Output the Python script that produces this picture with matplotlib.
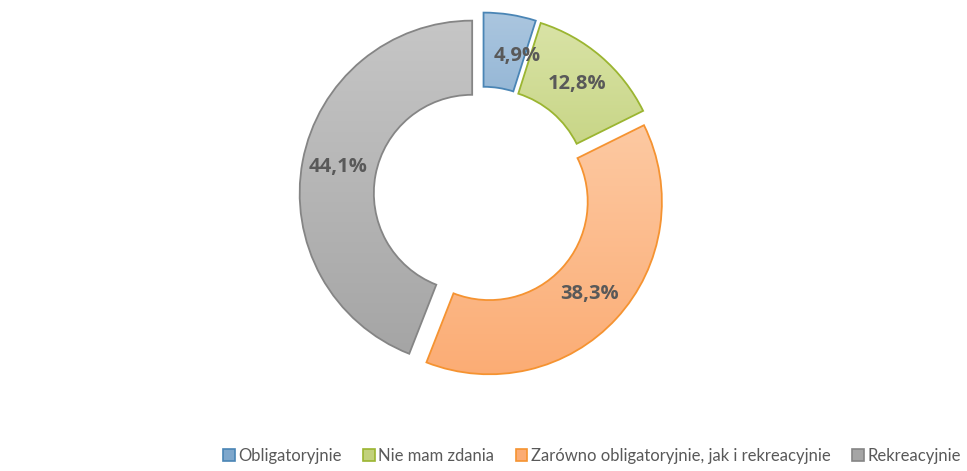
import numpy as np
import matplotlib
matplotlib.use('Agg')
from matplotlib import pyplot as plt
from matplotlib.patches import Patch
from matplotlib.colors import LinearSegmentedColormap

categories = ['Obligatoryjnie', 'Nie mam zdania',
              'Zarówno obligatoryjnie, jak i rekreacyjnie', 'Rekreacyjnie']
values = [4.9, 12.8, 38.3, 44.1]

# light (top) -> dark (bottom), edge colour
top_colors = ['#abc6df', '#d9e3a6', '#fdc9a2', '#c6c6c6']
bottom_colors = ['#7ea7cc', '#c2d17c', '#fbac74', '#a5a5a5']
edge_colors = ['#4a85b5', '#9bb531', '#f59331', '#858585']

plt.rcParams['font.family'] = ['Lato', 'DejaVu Sans']

fig = plt.figure(figsize=(9.67, 4.71), dpi=100)
lim = 1.15
ax = fig.add_axes([0.2933, 0.1648, 0.4103, 0.8424])

explode = [0.058] * len(values)
wedges, _ = ax.pie(values, startangle=90, counterclock=False, radius=1,
                   explode=explode,
                   wedgeprops=dict(width=0.43, linewidth=1.3))

for i, w in enumerate(wedges):
    verts = w.get_path().vertices
    x0, x1 = verts[:, 0].min(), verts[:, 0].max()
    y0, y1 = verts[:, 1].min(), verts[:, 1].max()
    cmap = LinearSegmentedColormap.from_list('g%d' % i, [bottom_colors[i], top_colors[i]])
    grad = np.linspace(0, 1, 256).reshape(-1, 1)
    im = ax.imshow(grad, cmap=cmap, origin='lower', extent=[x0, x1, y0, y1],
                   aspect='auto', zorder=1, interpolation='bicubic')
    im.set_clip_path(w)
    w.set_facecolor('none')
    w.set_edgecolor(edge_colors[i])
    w.set_zorder(2)

# percentage labels
cum = 0
for i, v in enumerate(values):
    theta = np.deg2rad(90 - 360 * (cum + v / 2) / 100)
    cum += v
    r = 0.79
    x = (r + explode[i]) * np.cos(theta)
    y = (r + explode[i]) * np.sin(theta)
    txt = ('%.1f%%' % v).replace('.', ',')
    # narrow slice: label nudged like Excel does
    dx, dy = (9, -4) if v < 6 else (0, 0)
    ax.annotate(txt, (x, y), xytext=(dx, dy), textcoords='offset points',
                ha='center', va='center', fontsize=14.5,
                fontweight='bold', color='#595959', zorder=3,
                family=['Open Sans', 'DejaVu Sans'])

ax.set_xlim(-lim, lim)
ax.set_ylim(-lim, lim)
ax.set_aspect('equal')
ax.axis('off')

handles = [Patch(facecolor=bottom_colors[i], edgecolor=edge_colors[i], linewidth=1.2)
           for i in range(len(categories))]
fig.legend(handles, categories, loc='center', bbox_to_anchor=(0.612, 0.032),
           ncol=4, frameon=False, fontsize=12, handlelength=0.7, handleheight=0.7,
           handletextpad=0.2, columnspacing=1.3, labelcolor='#595959')

fig.savefig('out.png', dpi=100)
